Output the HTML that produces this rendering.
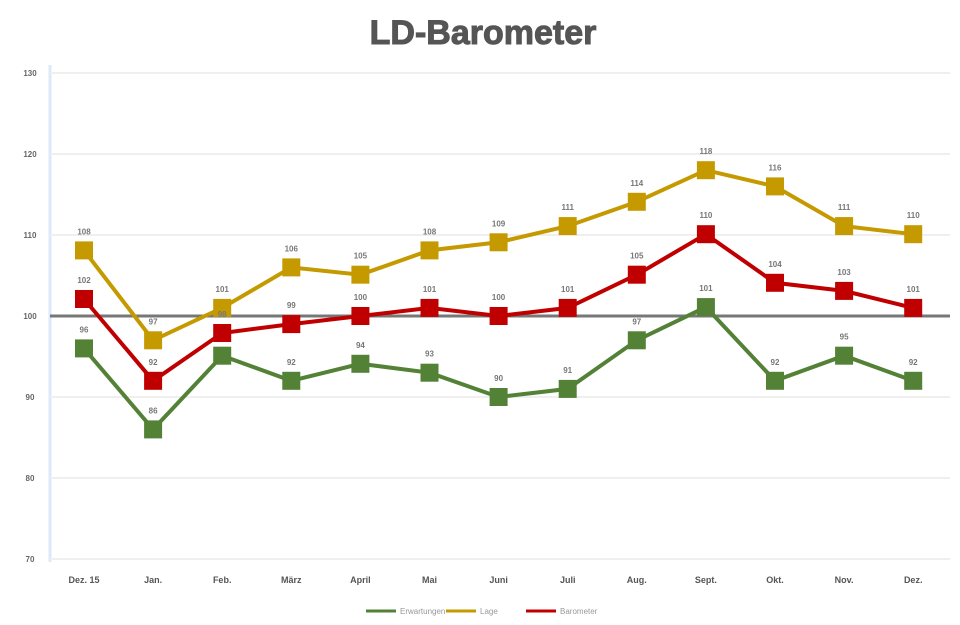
<!DOCTYPE html>
<html><head><meta charset="utf-8"><style>
body{margin:0;background:#fff;font-family:"Liberation Sans",sans-serif}
</style></head><body>
<svg id="c" width="960" height="620">
<text x="483" y="44" text-anchor="middle" font-size="34" font-weight="bold" fill="#555" stroke="#555" stroke-width="1">LD-Barometer</text>
</svg>
<script>
const categories=["Dez. 15","Jan.","Feb.","März","April","Mai","Juni","Juli","Aug.","Sept.","Okt.","Nov.","Dez."];
const seriesNames=["Erwartungen","Lage","Barometer"];
const seriesColors=["#538135","#c49a00","#c00000"];
const green=[96.0,86.0,95.1,92.0,94.1,93.0,90.0,91.0,97.0,101.1,92.0,95.1,92.0];
const gold=[108.1,97.0,101.0,106.0,105.1,108.1,109.1,111.1,114.1,118.0,116.0,111.1,110.1];
const red=[102.1,92.0,97.9,99.0,100.0,101.0,100.0,101.0,105.1,110.1,104.1,103.1,101.0];
const yTicks=[70,80,90,100,110,120,130];
const svg=document.getElementById('c');
const NS='http://www.w3.org/2000/svg';
const y=v=>316-(v-100)*8.1;
const x=i=>84+i*69.1;
function mk(t,a,p){const e=document.createElementNS(NS,t);for(const k in a)e.setAttribute(k,a[k]);(p||svg).appendChild(e);return e;}
mk('line',{x1:50,y1:65,x2:50,y2:562,stroke:'#dce9f7','stroke-width':3});
yTicks.forEach(t=>{
 const g=mk('line',{x1:50,x2:950,y1:y(t),y2:y(t),stroke:t===100?'#777':'#efefef','stroke-width':t===100?3:2});
 
 
 const l=mk('text',{x:30,y:y(t)+3,'text-anchor':'middle','font-size':8,'font-weight':'bold',fill:'#666'});
 l.textContent=t;
 
 
});
categories.forEach((c,i)=>{
 const l=mk('text',{x:x(i),y:583,'text-anchor':'middle','font-size':9,'font-weight':'bold',fill:'#555'});
 l.textContent=c;
 
 
});
[green,gold,red].forEach((s,si)=>{
 const col=seriesColors[si];
 const pl=mk('polyline',{points:s.map((v,i)=>x(i)+','+y(v)).join(' '),fill:'none',stroke:col,'stroke-width':4});
 
 
 s.forEach((v,i)=>{
  const r=mk('rect',{x:x(i)-9,y:y(v)-9,width:18,height:18,fill:col});
  
  
  const t=mk('text',{x:x(i),y:y(v)-16,'text-anchor':'middle','font-size':8,'font-weight':'bold',fill:'#777'});
  t.textContent=Math.round(v);
  
  
 });
});
seriesNames.forEach((n,i)=>{
 const lx=366+i*80;
 const l=mk('line',{x1:lx,x2:lx+30,y1:611,y2:611,stroke:seriesColors[i],'stroke-width':3});
 
 
 const t=mk('text',{x:lx+34,y:614,'font-size':8,fill:'#999'});
 t.textContent=n;
 
 
});
</script>
</body></html>
